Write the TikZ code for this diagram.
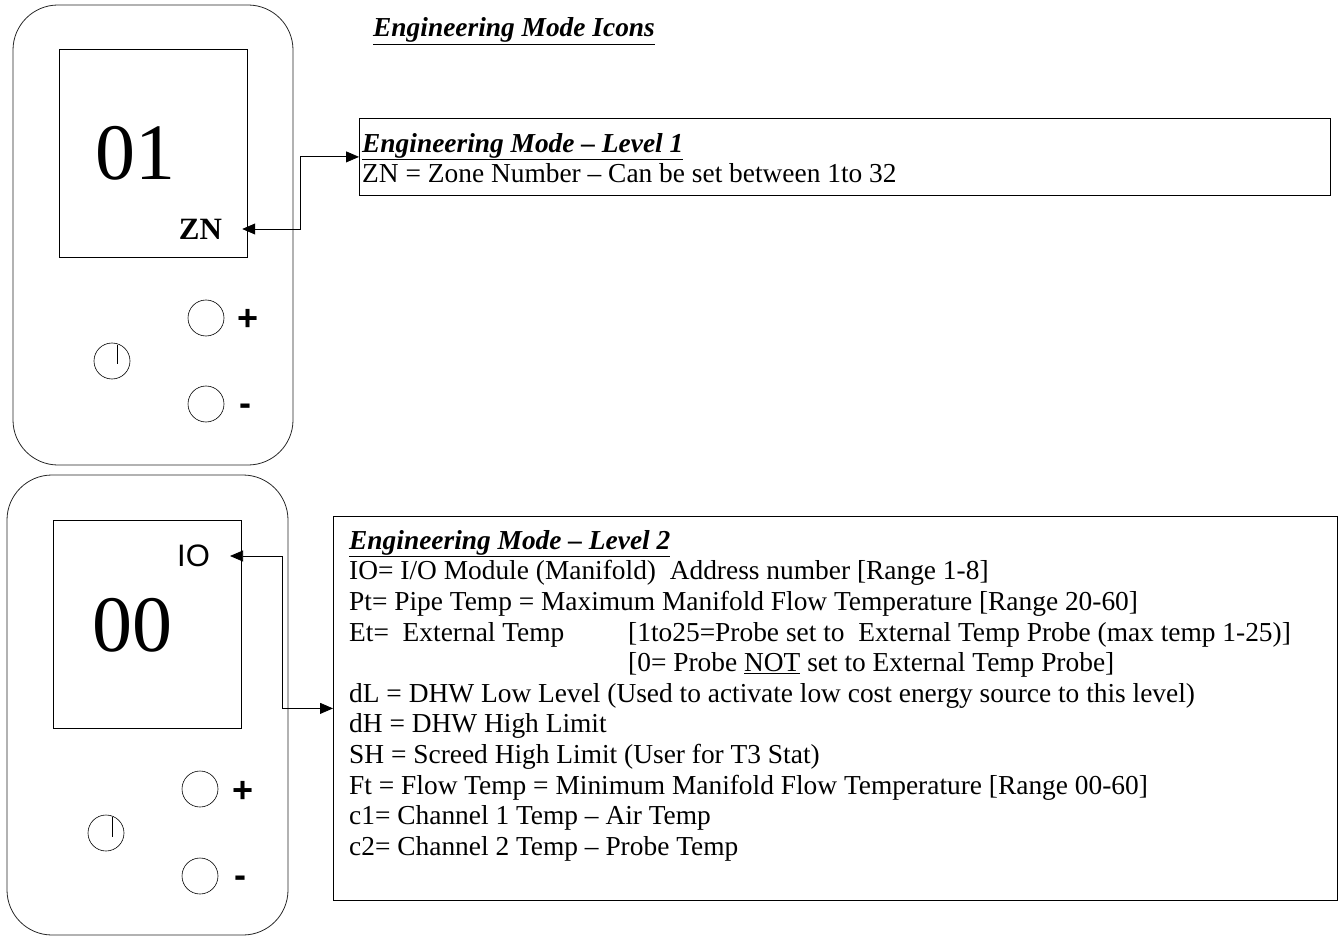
\documentclass[tikz,border=0pt]{standalone}
\usepackage{fontspec}
\setmainfont{Liberation Serif}
\newfontfamily\arialf{Liberation Sans}
\usetikzlibrary{arrows.meta,calc}
\begin{document}
\begin{tikzpicture}[x=1pt,y=-1pt,
 frame/.style={draw=black!85, line width=0.8pt, rounded corners=45pt},
 screen/.style={draw, line width=0.8pt},
 btn/.style={draw, line width=0.6pt, circle, minimum size=36pt, inner sep=0pt},
 sign/.style={font=\arialf\bfseries\fontsize{36}{36}\selectfont, inner sep=0pt},
 bignum/.style={font=\fontsize{80}{80}\selectfont, inner sep=0pt},
 infobox/.style={draw, line width=0.8pt, inner sep=0pt},
 conn/.style={line width=0.8pt, {Triangle[length=13pt,width=11pt]}-{Triangle[length=13pt,width=11pt]}},
 body/.style={font=\fontsize{27.4}{30.6}\selectfont, inner sep=0pt, align=left, anchor=north west},
]
\useasboundingbox (0,0) rectangle (1342,936);

% title
\node[anchor=base west, inner sep=0pt, font=\fontsize{27.4}{30}\selectfont] (title) at (373,37)
  {\underline{\textbf{\textit{Engineering Mode Icons}}}};

% ---------- device 1 ----------
\draw[frame] (13,5) rectangle (293,465);
\draw[screen] (59,49) rectangle (247,257);
\node[bignum] (num1) at (135,153) {01};
\node[font=\bfseries\fontsize{31}{31}\selectfont, inner xsep=20pt, inner ysep=0pt] (zn) at (200.5,229) {ZN};
\node[btn] (plus1) at (206,318) {};
\node[sign] (plussign1) at (248,320) {+};
\node[btn] (minus1) at (206,404) {};
\node[sign] (minussign1) at (245,410) {-};
\node[btn] (pw1) at (112,361) {};
\draw[line width=0.9pt] (pw1.center) ++(5,-16) -- ++(0,19);

% ---------- device 2 ----------
\draw[frame] (7,475) rectangle (288,935);
\draw[screen] (53,520) rectangle (241,728);
\node[bignum] (num2) at (132,625) {00};
\node[font=\arialf\fontsize{31}{31}\selectfont, inner xsep=20pt, inner ysep=0pt] (io) at (193.5,556) {IO};
\node[btn] (plus2) at (200,789) {};
\node[sign] (plussign2) at (243,792) {+};
\node[btn] (minus2) at (200,876) {};
\node[sign] (minussign2) at (240,882) {-};
\node[btn] (pw2) at (106,833) {};
\draw[line width=0.9pt] (pw2.center) ++(6,-16) -- ++(0,20);

% ---------- info boxes ----------
\node[infobox, minimum width=971pt, minimum height=77pt, anchor=north west] (box1) at (359,118) {};
\node[body] (text1) at (362,133)
  {\underline{\textbf{\textit{Engineering Mode -- Level 1}}}\\
   ZN = Zone Number -- Can be set between 1to 32};

\node[infobox, minimum width=1004pt, minimum height=384pt, anchor=north west] (box2) at (333,516) {};
\node[body] (text2) at (349,530)
  {\underline{\textbf{\textit{Engineering Mode -- Level 2}}}\\
   IO= I/O Module (Manifold)\ \ Address number [Range 1-8]\\
   Pt= Pipe Temp = Maximum Manifold Flow Temperature [Range 20-60]\\
   \makebox[279pt][l]{Et=\ \ External Temp}[1to25=Probe set to\ \ External Temp Probe (max temp 1-25)]\\
   \hspace*{279pt}[0= Probe \underline{NOT} set to External Temp Probe]\\
   dL = DHW Low Level (Used to activate low cost energy source to this level)\\
   dH = DHW High Limit\\
   SH = Screed High Limit (User for T3 Stat)\\
   Ft = Flow Temp = Minimum Manifold Flow Temperature [Range 00-60]\\
   c1= Channel 1 Temp -- Air Temp\\
   c2= Channel 2 Temp -- Probe Temp};

% ---------- connectors ----------
\draw[conn] (zn.east) -- ++(58,0) |- (box1.west);
\draw[conn] (io.east) -- ++(52,0) |- (box2.west);
\end{tikzpicture}
\end{document}
